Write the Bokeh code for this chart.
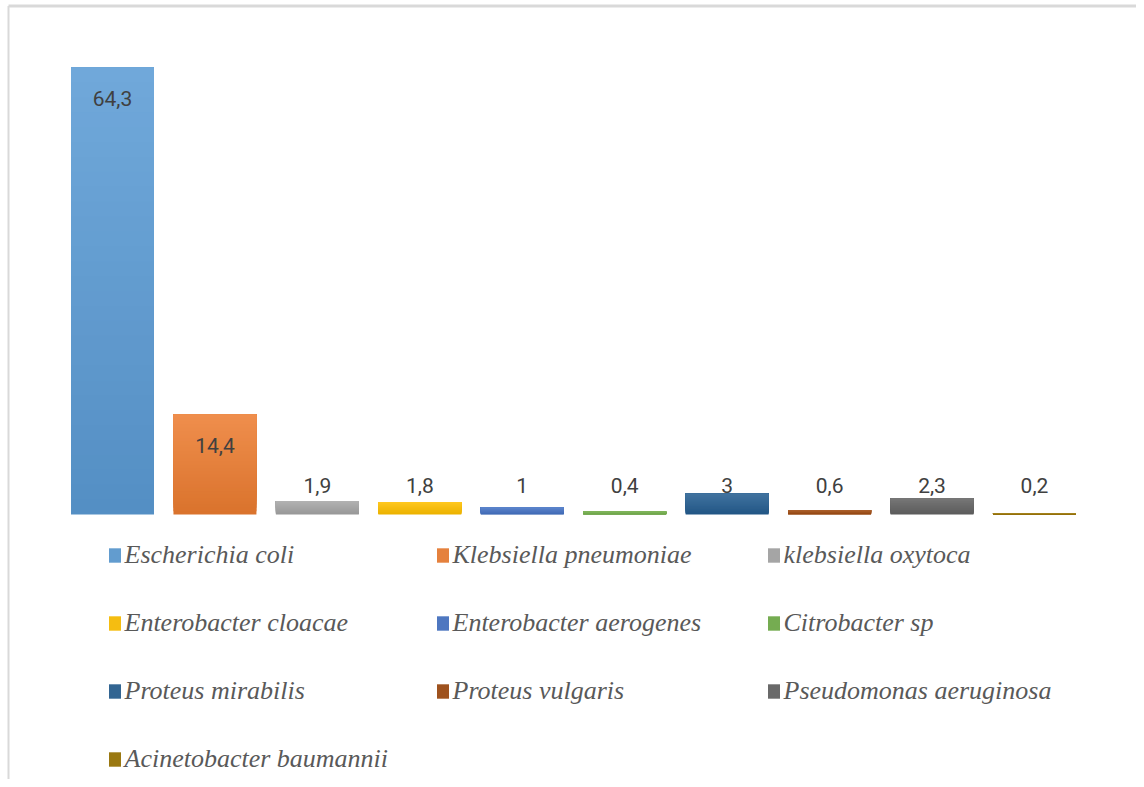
from bokeh.plotting import figure
from bokeh.models import ColumnDataSource, Legend, LegendItem
from bokeh.core.properties import value
from bokeh.embed import file_html
from bokeh.resources import INLINE

# ---------------- data ----------------
species = ["Escherichia coli", "Klebsiella pneumoniae", "klebsiella oxytoca",
           "Enterobacter cloacae", "Enterobacter aerogenes", "Citrobacter sp",
           "Proteus mirabilis", "Proteus vulgaris", "Pseudomonas aeruginosa",
           "Acinetobacter baumannii"]
percent = [64.3, 14.4, 1.9, 1.8, 1.0, 0.4, 3.0, 0.6, 2.3, 0.2]
value_labels = ["64,3", "14,4", "1,9", "1,8", "1", "0,4", "3", "0,6", "2,3", "0,2"]
colors = ["#5B9BD5", "#ED7D31", "#A5A5A5", "#FFC000", "#4472C4",
          "#70AD47", "#255E91", "#9E480E", "#636363", "#997300"]

# ---------------- layout / style ----------------
W, H = 1136, 779
SX = 102.44                      # px per category
SY = 6.952                       # px per percent unit
X_RANGE = (-112 / SX, -112 / SX + W / SX)
Y_RANGE = (-(H - 514) / SY, 514 / SY)
BAR_W = 0.81
N_SLICES = 30


def _rgb(h):
    h = h.lstrip("#")
    return [int(h[i:i + 2], 16) for i in (0, 2, 4)]


def _hex(c):
    return "#%02x%02x%02x" % tuple(max(0, min(255, int(round(v)))) for v in c)


def mix(c, other, f):
    a, b = _rgb(c), _rgb(other)
    return _hex([a[i] * (1 - f) + b[i] * f for i in range(3)])


p = figure(width=W, height=H, x_range=X_RANGE, y_range=Y_RANGE,
           x_axis_type=None, y_axis_type=None,
           output_backend="svg", toolbar_location=None, min_border=0)
p.grid.visible = False
p.outline_line_color = None
p.background_fill_color = "white"

# chart-area border (top and left edges visible in the crop)
bx = X_RANGE[0] + 8 / SX
by = Y_RANGE[1] - 5.5 / SY
p.segment(x0=[bx, bx], y0=[by, by], x1=[X_RANGE[1], bx], y1=[by, Y_RANGE[0]],
          line_color="#D9D9D9", line_width=[3, 2])

renderers = []
for i, (v, c) in enumerate(zip(percent, colors)):
    light = mix(c, "#ffffff", 0.13)
    dark = mix(c, "#000000", 0.08)
    bottoms = [v * k / N_SLICES for k in range(N_SLICES)]
    tops = [v] * N_SLICES
    cols = [mix(dark, light, k / (N_SLICES - 1)) for k in range(N_SLICES)]
    src = ColumnDataSource(dict(x=[i] * N_SLICES, bottom=bottoms, top=tops, color=cols))
    r = p.vbar(x="x", width=BAR_W, bottom="bottom", top="top", fill_color="color",
               line_color=None, source=src)
    renderers.append(r)

# data labels
label_y = [v - 31 / SY if v > 10 else 29 / SY for v in percent]
p.text(x=list(range(len(percent))), y=label_y, text=value_labels,
       text_align="center", text_baseline="middle",
       text_font=value("Roboto"),
       text_font_size="21px", text_color="#404040")

# legends: three columns, row-major order
col_x = [106.5, 434.5, 765.5]
row_pitch = 68
item_h = 30
first_row = 555
for ci in range(3):
    idxs = list(range(ci, len(species), 3))
    items = [LegendItem(label=species[k], renderers=[renderers[k]], index=N_SLICES // 2)
             for k in idxs]
    n = len(idxs)
    bottom_px = first_row + (n - 1) * row_pitch + item_h / 2
    leg = Legend(items=items, location=(col_x[ci], H - bottom_px),
                 orientation="vertical", glyph_width=15, glyph_height=18,
                 label_height=item_h, spacing=row_pitch - item_h,
                 padding=0, margin=0, border_line_color=None,
                 background_fill_alpha=0, label_standoff=3,
                 label_text_font="Liberation Serif", label_text_font_style="italic",
                 label_text_font_size="26px", label_text_color="#595959")
    p.add_layout(leg)

open("out.html", "w").write(file_html(p, INLINE))
